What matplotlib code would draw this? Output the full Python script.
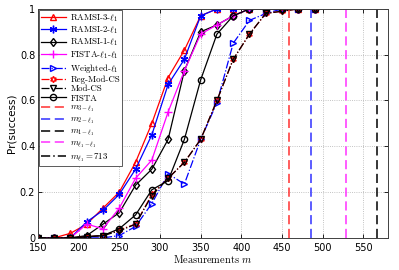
import matplotlib
matplotlib.use('Agg')
import matplotlib.pyplot as plt
import numpy as np

plt.rcParams['mathtext.fontset'] = 'cm'

m = [150, 170, 190, 210, 230, 250, 270, 290, 310, 330, 350, 370, 390, 410, 430, 450, 470, 490]

ramsi3 = [0, 0, 0.02, 0.06, 0.13, 0.20, 0.33, 0.50, 0.70, 0.82, 0.97, 1, 1, 1, 1, 1, 1, 1]
ramsi2 = [0, 0, 0, 0.07, 0.12, 0.19, 0.30, 0.45, 0.67, 0.78, 0.97, 1, 1, 1, 1, 1, 1, 1]
ramsi1 = [0, 0, 0, 0.01, 0.06, 0.11, 0.23, 0.30, 0.43, 0.73, 0.90, 0.93, 0.97, 1, 1, 1, 1, 1]
fista_l1l1 = [0, 0, 0, 0.06, 0.04, 0.13, 0.26, 0.34, 0.55, 0.73, 0.89, 0.93, 0.97, 1, 1, 1, 1, 1]
weighted = [0, 0, 0, 0, 0, 0.01, 0.05, 0.15, 0.28, 0.235, 0.43, 0.59, 0.85, 0.95, 0.98, 1, 1, 1]
reg_mod_cs = [0, 0, 0, 0.005, 0.01, 0.035, 0.06, 0.19, 0.26, 0.33, 0.43, 0.60, 0.78, 0.89, 0.98, 0.99, 1, 1]
mod_cs = [0, 0, 0, 0.005, 0.01, 0.03, 0.06, 0.185, 0.26, 0.33, 0.43, 0.60, 0.78, 0.89, 0.98, 0.99, 1, 1]
fista = [0, 0, 0, 0.005, 0.01, 0.04, 0.10, 0.21, 0.25, 0.43, 0.69, 0.89, 0.97, 1, 1, 1, 1, 1]

m_bounds = [458, 485, 567, 529, 713]
bound_labels = [r'$m_{3-\ell_1}$', r'$m_{2-\ell_1}$', r'$m_{1-\ell_1}$',
                r'$m_{\ell_1-\ell_1}$', r'$m_{\ell_1} = 713$']
bound_colors = ['#ff3030', '#3030ff', 'k', '#ff30ff', 'k']
bound_styles = [(0, (6, 3)), (0, (6, 3)), (0, (6, 3)), (0, (6, 3)), (0, (6, 2, 1, 2))]

fig = plt.figure(figsize=(3.99, 2.70), dpi=100)
ax = fig.add_axes([0.095, 0.119, 0.877, 0.848])

ms = 4.5
lw = 0.9
ax.plot(m, ramsi3, '-', color='r', marker='^', mfc='none', ms=ms, lw=lw, label=r'RAMSI-3-$\ell_1$')
ax.plot(m, ramsi2, '-', color='b', marker=(6, 2, 0), ms=ms + 1, lw=lw, label=r'RAMSI-2-$\ell_1$')
ax.plot(m, ramsi1, '-', color='k', marker='d', mfc='none', ms=ms, lw=lw, label=r'RAMSI-1-$\ell_1$')
ax.plot(m, fista_l1l1, '-', color='#ff00ff', marker='+', ms=ms + 1, lw=lw, label=r'FISTA-$\ell_1$-$\ell_1$')
ax.plot(m, weighted, '-.', color='b', marker='>', mfc='none', ms=ms, lw=lw, label=r'Weighted-$\ell_1$')
ax.plot(m, reg_mod_cs, '-.', color='r', marker=(6, 1, 0), mfc='none', ms=ms, lw=lw, label='Reg-Mod-CS')
ax.plot(m, mod_cs, '-.', color='k', marker='v', mfc='none', ms=ms, lw=lw, label='Mod-CS')
ax.plot(m, fista, '-', color='k', marker='o', mfc='none', ms=ms, lw=lw, label='FISTA')

for xb, lab, c, ls in zip(m_bounds, bound_labels, bound_colors, bound_styles):
    ax.axvline(xb, color=c, ls=ls, lw=1.1, label=lab)

ax.set_xlim(150, 580)
ax.set_ylim(0, 1)
ax.set_xticks(np.arange(150, 551, 50))
ax.set_yticks([0, 0.2, 0.4, 0.6, 0.8, 1])
ax.set_yticklabels(['0', '0.2', '0.4', '0.6', '0.8', '1'])
ax.tick_params(direction='in', labelsize=7, length=3, width=0.6, top=True, right=True)
ax.tick_params(axis='x', pad=3.5)
ax.tick_params(axis='y', pad=2)
ax.grid(True, ls=':', color='#b0b0b0', lw=0.6)
for s in ax.spines.values():
    s.set_color('#404040')
    s.set_linewidth(0.7)

ax.set_xlabel(r'Measurements $m$', family='cmr10', fontsize=7.5, labelpad=0)
ax.set_ylabel('Pr(success)', fontsize=7.5, labelpad=2)

leg = ax.legend(loc='upper left', prop={'family': 'cmr10', 'size': 6.4},
                fancybox=False, edgecolor='#404040', framealpha=1,
                borderaxespad=0.1, handlelength=2.8, labelspacing=0.1,
                borderpad=0.25, handletextpad=0.5)
leg.get_frame().set_linewidth(0.6)

fig.savefig('out.png', dpi=100)
